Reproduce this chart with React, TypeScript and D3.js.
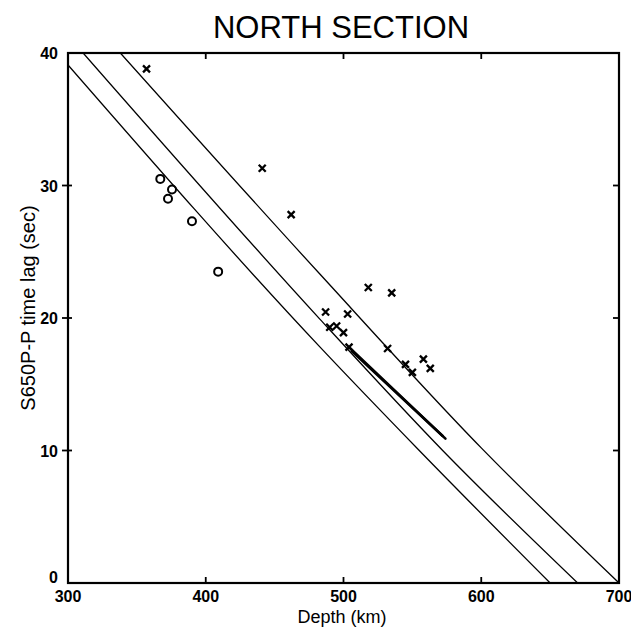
import React from "react";
import * as d3 from "d3";

const W = 631;
const H = 629;

const xTicks = [300, 400, 500, 600, 700];
const yTicks = [0, 10, 20, 30, 40];

// three reference curves [depth km, lag s]
const curveLower: [number, number][] = [[300, 39.1], [483, 17.8], [555, 10.0], [650, 0]];
const curveMiddle: [number, number][] = [[311, 40], [483, 19.9], [572, 10.0], [670, 0]];
const curveUpper: [number, number][] = [[338, 40], [483, 23.3], [600, 10.2], [700, 0]];

// thick band
const bandA: [number, number][] = [[504, 17.8], [574, 10.9]];
const bandB: [number, number][] = [[506, 17.5], [572, 11.1]];

const crosses: [number, number][] = [
  [357, 38.8], [441, 31.3], [462, 27.8], [487, 20.45], [503, 20.3], [490, 19.3],
  [495, 19.4], [500, 18.9], [504, 17.8], [518, 22.3], [535, 21.9], [532, 17.7],
  [545, 16.5], [550, 15.9], [558, 16.9], [563, 16.2],
];

const circles: [number, number][] = [
  [367, 30.5], [375.5, 29.7], [372.6, 29.0], [390, 27.3], [409, 23.5],
];

export default function App() {
  const x = d3.scaleLinear().domain([300, 700]).range([68, 619]);
  const y = d3.scaleLinear().domain([0, 40]).range([583, 53]);
  const curve = d3
    .line<[number, number]>()
    .x((d) => x(d[0]))
    .y((d) => y(d[1]))
    .curve(d3.curveMonotoneX);
  const line = d3.line<[number, number]>().x((d) => x(d[0])).y((d) => y(d[1]));
  const font = "Liberation Sans, Arial, Helvetica, sans-serif";
  const [x0, x1] = x.range();
  const [y0, y1] = y.range();

  return (
    <svg width={W} height={H} style={{ position: "absolute", left: 0, top: 0, background: "#fff" }}>
      <defs>
        <clipPath id="plot">
          <rect x={x0} y={y1} width={x1 - x0} height={y0 - y1} />
        </clipPath>
      </defs>
      <text x={341} y={38} textAnchor="middle" fontFamily={font} fontSize={31} fill="#000">
        NORTH SECTION
      </text>

      <g clipPath="url(#plot)" fill="none" stroke="#000">
        {[curveLower, curveMiddle, curveUpper].map((c, i) => (
          <path key={i} d={curve(c) || ""} strokeWidth={1.3} />
        ))}
        <path d={line(bandA) || ""} strokeWidth={2.6} strokeLinecap="round" />
        <path d={line(bandB) || ""} strokeWidth={2.6} strokeLinecap="round" />
      </g>

      {circles.map((d, i) => (
        <circle key={i} cx={x(d[0])} cy={y(d[1])} r={4} fill="none" stroke="#000" strokeWidth={2} />
      ))}
      {crosses.map((d, i) => {
        const cx = x(d[0]);
        const cy = y(d[1]);
        const s = 3.5;
        return (
          <path
            key={i}
            d={`M${cx - s},${cy - s}L${cx + s},${cy + s}M${cx - s},${cy + s}L${cx + s},${cy - s}`}
            stroke="#000"
            strokeWidth={2.3}
          />
        );
      })}

      <rect x={x0} y={y1} width={x1 - x0} height={y0 - y1} fill="none" stroke="#000" strokeWidth={2.2} />

      {xTicks.slice(1, -1).map((t) => (
        <g key={t} stroke="#000" strokeWidth={1.8}>
          <line x1={x(t)} x2={x(t)} y1={y0} y2={y0 - 6} />
          <line x1={x(t)} x2={x(t)} y1={y1} y2={y1 + 6} />
        </g>
      ))}
      {yTicks.slice(1, -1).map((t) => (
        <g key={t} stroke="#000" strokeWidth={1.8}>
          <line x1={x0 - 6} x2={x0 + 4} y1={y(t)} y2={y(t)} />
          <line x1={x1} x2={x1 - 6} y1={y(t)} y2={y(t)} />
        </g>
      ))}

      {xTicks.map((t) => (
        <text key={t} x={x(t)} y={602} textAnchor="middle" fontFamily={font} fontSize={16} fontWeight="bold" fill="#000">
          {t}
        </text>
      ))}
      {yTicks.map((t) => (
        <text key={t} x={58} y={y(t) + (t === 0 ? 0 : 6)} textAnchor="end" fontFamily={font} fontSize={16} fontWeight="bold" fill="#000">
          {t}
        </text>
      ))}

      <text x={342} y={623} textAnchor="middle" fontFamily={font} fontSize={18} fill="#000">
        Depth (km)
      </text>
      <text
        transform={`translate(35,${(y0 + y1) / 2 - 10}) rotate(-90)`}
        textAnchor="middle"
        fontFamily={font}
        fontSize={20}
        fill="#000"
      >
        S650P-P time lag (sec)
      </text>
    </svg>
  );
}
